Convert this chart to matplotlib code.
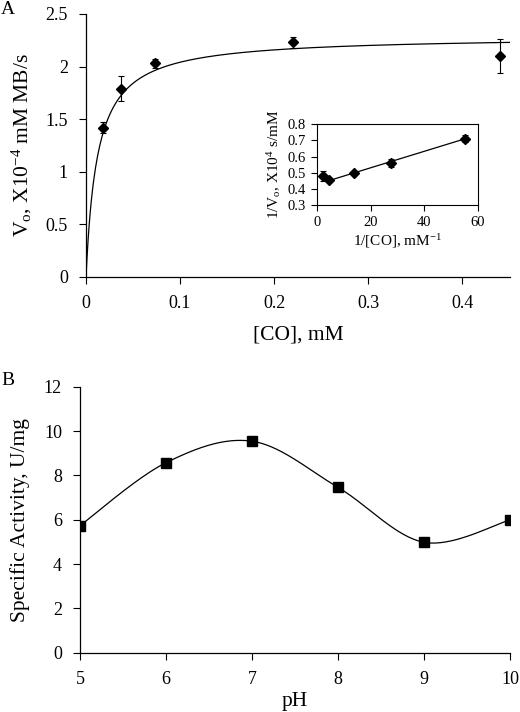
import numpy as np
import matplotlib
matplotlib.use("Agg")
import matplotlib.pyplot as plt

plt.rcParams["font.family"] = ["Liberation Serif", "DejaVu Serif"]
plt.rcParams["mathtext.fontset"] = "custom"
plt.rcParams["mathtext.rm"] = "Liberation Serif"
plt.rcParams["mathtext.it"] = "Liberation Serif:italic"

# Panel A: rate vs [CO]
co_mM = [0.018, 0.037, 0.073, 0.22, 0.44]
v0 = [1.42, 1.79, 2.03, 2.23, 2.10]
v0_err = [0.05, 0.12, 0.04, 0.05, 0.16]
# Michaelis-Menten fit parameters
VMAX = 2.29
KM = 0.0122

# Inset: double reciprocal
inv_co = [2.3, 4.5, 13.7, 27.4, 55.0]
inv_v = [0.482, 0.455, 0.50, 0.563, 0.712]
inv_v_err = [0.03, 0.01, 0.01, 0.025, 0.02]

# Panel B: pH profile
ph = [5, 6, 7, 8, 9, 10]
activity = [5.73, 8.57, 9.54, 7.46, 4.98, 5.99]


def smooth_curve(x, y, n=40):
    # Excel-style smoothed line (Bezier through the points)
    p = np.column_stack([x, y]).astype(float)
    out = []
    for i in range(len(p) - 1):
        p0 = p[i - 1] if i > 0 else p[i]
        p1, p2 = p[i], p[i + 1]
        p3 = p[i + 2] if i + 2 < len(p) else p[i + 1]
        c1 = p1 + (p2 - p0) / 6
        c2 = p2 - (p3 - p1) / 6
        t = np.linspace(0, 1, n)[:, None]
        seg = ((1 - t) ** 3) * p1 + 3 * ((1 - t) ** 2) * t * c1 + 3 * (1 - t) * t ** 2 * c2 + t ** 3 * p2
        out.append(seg)
    out = np.vstack(out)
    return out[:, 0], out[:, 1]


fig = plt.figure(figsize=(5.2, 7.12), dpi=100)

# ---- panel A
axA = fig.add_axes([0.1654, 0.611, 0.8154, 0.3694])
s = np.linspace(0, 0.451, 400)
axA.plot(s, VMAX * s / (KM + s), color="black", lw=0.9)
axA.errorbar(co_mM, v0, yerr=v0_err, fmt="D", color="black", ms=5.5,
             ecolor="black", elinewidth=0.8, capsize=2.5, capthick=0.8)
axA.set_xlim(0, 0.451)
axA.set_ylim(0, 2.5)
axA.set_xticks([0, 0.1, 0.2, 0.3, 0.4])
axA.set_xticklabels(["0", "0.1", "0.2", "0.3", "0.4"])
axA.set_yticks([0, 0.5, 1, 1.5, 2, 2.5])
axA.set_yticklabels(["0", "0.5", "1", "1.5", "2", "2.5"])
axA.spines[["top", "right"]].set_visible(False)
axA.tick_params(direction="out", length=5, width=0.8, labelsize=13, pad=8)
axA.set_xlabel("[CO], mM", fontsize=15.5, labelpad=10)
axA.set_ylabel(r"V$_\mathrm{o}$, X10$^{-4}$ mM MB/s", fontsize=15.5, labelpad=8)
fig.text(0.002, 0.998, "A", fontsize=14, va="top", ha="left")

# ---- inset
axI = fig.add_axes([0.6096, 0.7117, 0.3096, 0.1138])
coef = np.polyfit(inv_co[1:], inv_v[1:], 1)
xl = np.array([inv_co[1], inv_co[-1]])
axI.plot(xl, np.polyval(coef, xl), color="black", lw=0.9)
axI.errorbar(inv_co, inv_v, yerr=inv_v_err, fmt="D", color="black", ms=5,
             ecolor="black", elinewidth=0.8, capsize=2, capthick=0.8)
axI.set_xlim(0, 60)
axI.set_ylim(0.3, 0.8)
axI.set_xticks([0, 20, 40, 60])
axI.set_yticks([0.3, 0.4, 0.5, 0.6, 0.7, 0.8])
axI.tick_params(direction="out", length=4, width=0.8, labelsize=10.5, pad=4)
axI.set_xlabel(r"1/[CO], mM$^{-1}$", fontsize=11, labelpad=2)
axI.set_ylabel(r"1/V$_\mathrm{o}$, X10$^{4}$ s/mM", fontsize=11, labelpad=3)

# ---- panel B
axB = fig.add_axes([0.1538, 0.0833, 0.8269, 0.3736])
cx, cy = smooth_curve(ph, activity)
axB.plot(cx, cy, color="black", lw=0.9)
axB.plot(ph, activity, "s", color="black", ms=7)
axB.set_xlim(5, 10)
axB.set_ylim(0, 12)
axB.set_yticks(range(0, 13, 2))
axB.spines[["top", "right"]].set_visible(False)
axB.tick_params(direction="out", length=5, width=0.8, labelsize=13, pad=8)
axB.set_xlabel("pH", fontsize=15.5, labelpad=3)
axB.set_ylabel("Specific Activity, U/mg", fontsize=15.5, labelpad=10)
fig.text(0.002, 0.478, "B", fontsize=14, va="top", ha="left")
for ax in (axA, axB):
    ax.spines["left"].set_linewidth(0.9)
    ax.spines["bottom"].set_linewidth(0.9)

fig.savefig("out.png", dpi=100)
